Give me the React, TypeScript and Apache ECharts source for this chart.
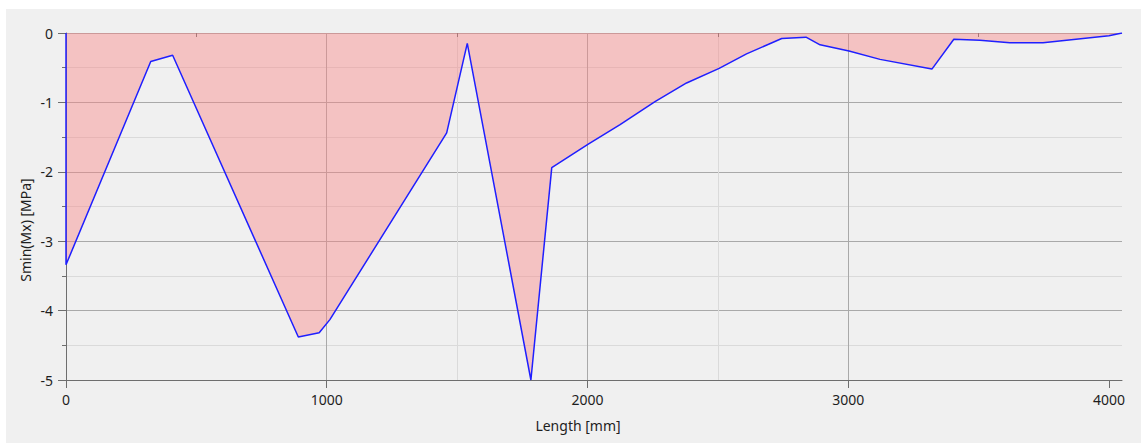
import React, { useEffect, useRef } from "react";
import * as echarts from "echarts";

const lengthMm = [0, 0, 325, 409, 891, 971, 1012, 1460, 1539, 1783, 1863, 2003, 2125, 2259, 2380, 2505, 2610, 2745, 2838, 2892, 3003, 3122, 3321, 3405, 3505, 3620, 3747, 4000, 4050];
const sminMx = [0, -3.34, -0.41, -0.32, -4.38, -4.32, -4.13, -1.44, -0.15, -5.0, -1.94, -1.6, -1.32, -0.99, -0.72, -0.51, -0.3, -0.08, -0.06, -0.17, -0.26, -0.38, -0.52, -0.09, -0.105, -0.14, -0.14, -0.04, 0];
const xMajorTicks = [0, 1000, 2000, 3000, 4000];
const xMinorTicks = [500, 1500, 2500, 3500];
const xAxisName = "Length [mm]";
const yAxisName = "Smin(Mx) [MPa]";

const FONT = "'Noto Sans', 'DejaVu Sans', sans-serif";
const FS = 14;
const MAJOR = "#a9a9a9";
const MINOR = "#dadada";
const AXIS = "#6e6e6e";
const TXT = "#1e1e1e";

export default function App() {
  const ref = useRef<HTMLDivElement>(null);
  useEffect(() => {
    if (!ref.current) return;
    const chart = echarts.init(ref.current, undefined, { renderer: "svg" });
    const data = lengthMm.map((x, i) => [x, sminMx[i]]);
    chart.setOption({
      animation: false,
      backgroundColor: "#ffffff",
      textStyle: { fontFamily: FONT },
      graphic: [
        { type: "rect", z: -100, shape: { x: 6, y: 9, width: 1135, height: 434 }, style: { fill: "#f0f0f0" } },
        {
          type: "text",
          x: 25,
          y: 230,
          rotation: Math.PI / 2,
          style: { text: yAxisName, fill: TXT, font: `${FS}px ${FONT}`, textAlign: "center", textVerticalAlign: "middle" },
        },
        {
          type: "text",
          x: 578,
          y: 425,
          style: { text: xAxisName, fill: TXT, font: `${FS}px ${FONT}`, textAlign: "center", textVerticalAlign: "middle" },
        },
      ],
      grid: { left: 66, top: 33, right: 19, bottom: 63, containLabel: false },
      xAxis: [
        {
          type: "value",
          min: 0,
          max: 4050,
          position: "bottom",
          axisLine: { show: true, onZero: false, lineStyle: { color: AXIS, width: 1 } },
          axisTick: { show: true, length: 8, customValues: xMajorTicks, lineStyle: { color: AXIS } },
          axisLabel: {
            customValues: xMajorTicks,
            formatter: (v: number) => String(v),
            color: TXT,
            fontSize: FS,
            margin: 12,
            fontFamily: FONT,
          },
          splitLine: { show: true, showMaxLine: false, lineStyle: { color: MAJOR, width: 1 } },
        },
        {
          type: "value",
          min: 0,
          max: 4050,
          position: "bottom",
          offset: 0,
          axisLine: { show: false },
          axisTick: { show: true, length: 4, customValues: xMinorTicks, lineStyle: { color: AXIS } },
          axisLabel: { show: false },
          splitLine: { show: true, showMaxLine: false, showMinLine: false, lineStyle: { color: MINOR, width: 1 } },
        },
      ],
      yAxis: {
        type: "value",
        min: -5,
        max: 0,
        interval: 1,
        axisLine: { show: true, onZero: false, lineStyle: { color: AXIS, width: 1 } },
        axisTick: { show: true, length: 8, lineStyle: { color: AXIS } },
        minorTick: { show: true, splitNumber: 2, length: 4, lineStyle: { color: AXIS } },
        minorSplitLine: { show: true, lineStyle: { color: MINOR, width: 1 } },
        axisLabel: { formatter: (v: number) => String(v), color: TXT, fontSize: FS, margin: 13, fontFamily: FONT },
        splitLine: { show: true, lineStyle: { color: MAJOR, width: 1 } },
      },
      series: [
        {
          type: "line",
          xAxisIndex: 0,
          data,
          showSymbol: false,
          symbol: "none",
          lineStyle: { color: "#1f1fff", width: 1.5 },
          areaStyle: { color: "rgba(250,130,130,0.42)", opacity: 1, origin: "auto" },
          z: 5,
        },
      ],
    });
    return () => chart.dispose();
  }, []);
  return <div ref={ref} style={{ position: "fixed", left: 0, top: 0, width: 1141, height: 443 }} />;
}
